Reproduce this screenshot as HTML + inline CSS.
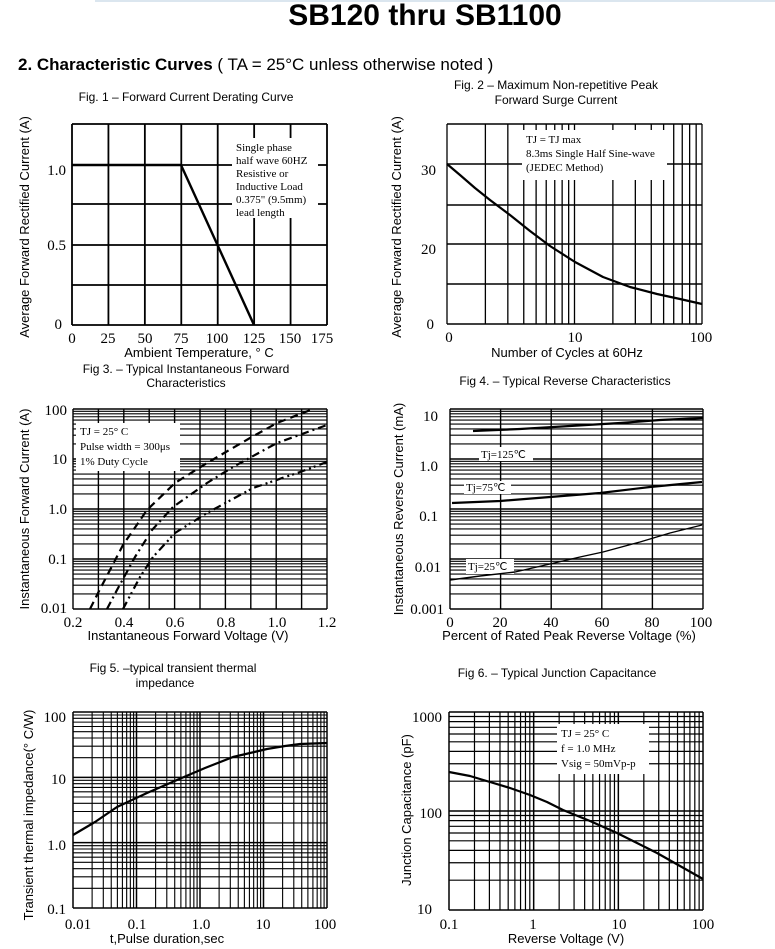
<!DOCTYPE html>
<html><head><meta charset="utf-8"><style>
html,body{margin:0;padding:0;background:#fff;}
svg{display:block;}
.s{font-family:"Liberation Sans",Arial,sans-serif;fill:#000;}
.t{font-family:"Liberation Serif","Times New Roman",serif;fill:#000;}
</style></head><body>
<svg id="c" width="775" height="949" viewBox="0 0 775 949" xmlns="http://www.w3.org/2000/svg">
<rect width="775" height="949" fill="#fff"/>
<line x1="95" y1="1" x2="775" y2="1" stroke="#dbe6ef" stroke-width="2"/>
<g id="grid"></g>
<g id="ann">
<rect x="232" y="138" width="86" height="80" fill="#fff"/>
<rect x="522" y="130" width="145" height="50" fill="#fff"/>
<rect x="76" y="423" width="104" height="48" fill="#fff"/>
<rect x="479" y="447" width="54" height="14" fill="#fff"/>
<rect x="464" y="481" width="47" height="13" fill="#fff"/>
<rect x="466" y="559" width="48" height="15" fill="#fff"/>
<rect x="557" y="724" width="92" height="50" fill="#fff"/>
</g>
<g id="curves"></g>
<text class="s" x="425" y="25" text-anchor="middle" font-size="30" font-weight="bold">SB120  thru SB1100</text>
<text class="s" x="18" y="70" font-size="17"><tspan font-weight="bold">2. Characteristic Curves</tspan> ( TA = 25°C unless otherwise noted )</text>

<text class="s" x="186" y="101" text-anchor="middle" font-size="12">Fig. 1 – Forward Current Derating Curve</text>
<text class="s" x="556" y="89" text-anchor="middle" font-size="12">Fig. 2 – Maximum Non-repetitive Peak</text>
<text class="s" x="556" y="104" text-anchor="middle" font-size="12">Forward Surge Current</text>
<text class="s" x="186" y="373" text-anchor="middle" font-size="12">Fig 3. – Typical Instantaneous Forward</text>
<text class="s" x="186" y="387" text-anchor="middle" font-size="12">Characteristics</text>
<text class="s" x="565" y="385" text-anchor="middle" font-size="12">Fig 4. – Typical Reverse Characteristics</text>
<text class="s" x="173" y="672" text-anchor="middle" font-size="12">Fig 5. –typical transient thermal</text>
<text class="s" x="165" y="687" text-anchor="middle" font-size="12">impedance</text>
<text class="s" x="557" y="677" text-anchor="middle" font-size="12">Fig 6. – Typical Junction Capacitance</text>

<!-- Fig1 text -->
<g class="t" font-size="11">
<text x="236" y="151">Single phase</text>
<text x="236" y="164">half  wave 60HZ</text>
<text x="236" y="177">Resistive or</text>
<text x="236" y="190">Inductive Load</text>
<text x="236" y="203">0.375" (9.5mm)</text>
<text x="236" y="216">lead length</text>
</g>
<g class="t" font-size="15" text-anchor="end">
<text x="66" y="175">1.0</text><text x="66" y="250">0.5</text><text x="62" y="329">0</text>
</g>
<g class="t" font-size="15" text-anchor="middle">
<text x="72" y="343">0</text><text x="108" y="343">25</text><text x="145" y="343">50</text><text x="181" y="343">75</text><text x="217" y="343">100</text><text x="254" y="343">125</text><text x="290" y="343">150</text><text x="322" y="343">175</text>
</g>
<text class="s" x="199" y="357" text-anchor="middle" font-size="13">Ambient Temperature,  °  C</text>
<text class="s" font-size="13" text-anchor="middle" transform="translate(29,227) rotate(-90)">Average Forward Rectified Current (A)</text>

<!-- Fig2 text -->
<g class="t" font-size="11">
<text x="526" y="143">TJ = TJ max</text>
<text x="526" y="157">8.3ms Single Half Sine-wave</text>
<text x="526" y="171">(JEDEC Method)</text>
</g>
<g class="t" font-size="15" text-anchor="end">
<text x="436" y="175">30</text><text x="436" y="254">20</text><text x="434" y="329">0</text>
</g>
<g class="t" font-size="15" text-anchor="middle">
<text x="449" y="342">0</text><text x="575" y="342">10</text><text x="701" y="342">100</text>
</g>
<text class="s" x="567" y="357" text-anchor="middle" font-size="13">Number of Cycles at 60Hz</text>
<text class="s" font-size="13" text-anchor="middle" transform="translate(401,227) rotate(-90)">Average Forward Rectified Current (A)</text>

<!-- Fig3 text -->
<g class="t" font-size="11">
<text x="80" y="435">TJ = 25°  C</text>
<text x="80" y="450">Pulse width = 300μs</text>
<text x="80" y="465">1% Duty Cycle</text>
</g>
<g class="t" font-size="15" text-anchor="end">
<text x="67" y="415">100</text><text x="67" y="464">10</text><text x="67" y="514">1.0</text><text x="67" y="564">0.1</text><text x="67" y="613">0.01</text>
</g>
<g class="t" font-size="15" text-anchor="middle">
<text x="73" y="627">0.2</text><text x="124" y="627">0.4</text><text x="175" y="627">0.6</text><text x="226" y="627">0.8</text><text x="277" y="627">1.0</text><text x="327" y="627">1.2</text>
</g>
<text class="s" x="188" y="640" text-anchor="middle" font-size="13">Instantaneous Forward Voltage (V)</text>
<text class="s" font-size="13" text-anchor="middle" transform="translate(29,509) rotate(-90)">Instantaneous Forward Current (A)</text>

<!-- Fig4 text -->
<g class="t" font-size="11">
<text x="481" y="458">Tj=125℃</text>
<text x="466" y="491">Tj=75℃</text>
<text x="468" y="570">Tj=25℃</text>
</g>
<g class="t" font-size="15" text-anchor="end">
<text x="438" y="421">10</text><text x="438" y="471">1.0</text><text x="438" y="521">0.1</text><text x="441" y="572">0.01</text><text x="444" y="614">0.001</text>
</g>
<g class="t" font-size="15" text-anchor="middle">
<text x="450" y="627">0</text><text x="500" y="627">20</text><text x="551" y="627">40</text><text x="602" y="627">60</text><text x="652" y="627">80</text><text x="701" y="627">100</text>
</g>
<text class="s" x="569" y="640" text-anchor="middle" font-size="13">Percent of Rated Peak Reverse Voltage (%)</text>
<text class="s" font-size="13" text-anchor="middle" transform="translate(403,509) rotate(-90)">Instantaneous Reverse Current (mA)</text>

<!-- Fig5 text -->
<g class="t" font-size="15" text-anchor="end">
<text x="66" y="722">100</text><text x="66" y="784">10</text><text x="66" y="850">1.0</text><text x="66" y="914">0.1</text>
</g>
<g class="t" font-size="15" text-anchor="middle">
<text x="78" y="929">0.01</text><text x="137" y="929">0.1</text><text x="201" y="929">1.0</text><text x="263" y="929">10</text><text x="325" y="929">100</text>
</g>
<text class="s" x="167" y="943" text-anchor="middle" font-size="13">t,Pulse duration,sec</text>
<text class="s" font-size="13" text-anchor="middle" transform="translate(33,815) rotate(-90)">Transient thermal impedance(°  C/W)</text>

<!-- Fig6 text -->
<g class="t" font-size="11">
<text x="561" y="737">TJ = 25°  C</text>
<text x="561" y="752">f = 1.0 MHz</text>
<text x="561" y="767">Vsig = 50mVp-p</text>
</g>
<g class="t" font-size="15" text-anchor="end">
<text x="442" y="722">1000</text><text x="442" y="818">100</text><text x="432" y="914">10</text>
</g>
<g class="t" font-size="15" text-anchor="middle">
<text x="449" y="929">0.1</text><text x="533" y="929">1</text><text x="619" y="929">10</text><text x="703" y="929">100</text>
</g>
<text class="s" x="566" y="943" text-anchor="middle" font-size="13">Reverse Voltage (V)</text>
<text class="s" font-size="13" text-anchor="middle" transform="translate(411,810) rotate(-90)">Junction Capacitance (pF)</text>
</svg>
<script>
(function(){
var NS="http://www.w3.org/2000/svg";
var g=document.getElementById('grid'), cv=document.getElementById('curves'), ann=document.getElementById('ann');
function L(x1,y1,x2,y2,w){var e=document.createElementNS(NS,'line');e.setAttribute('x1',x1);e.setAttribute('y1',y1);e.setAttribute('x2',x2);e.setAttribute('y2',y2);e.setAttribute('stroke','#000');e.setAttribute('stroke-width',w||1.2);g.appendChild(e);}
function box(x0,y0,x1,y1,w){L(x0,y0,x1,y0,w);L(x0,y1,x1,y1,w);L(x0,y0,x0,y1,w);L(x1,y0,x1,y1,w);}
function P(pts,w,dash){var e=document.createElementNS(NS,'polyline');e.setAttribute('points',pts.map(function(p){return p[0]+','+p[1];}).join(' '));e.setAttribute('fill','none');e.setAttribute('stroke','#000');e.setAttribute('stroke-width',w||2);e.setAttribute('stroke-linejoin','round');if(dash)e.setAttribute('stroke-dasharray',dash);cv.appendChild(e);}
function logVals(d0,d1){var a=[];for(var d=d0;d<d1;d++){for(var k=1;k<=9;k++)a.push([Math.log10(k)+d,k==1]);}a.push([d1,true]);return a;}
// Fig1
var i;
for(i=0;i<=7;i++)L(72+i*255/7,124,72+i*255/7,325,1.8);
[124,165,204,245,285,325].forEach(function(y){L(72,y,327,y,1.8);});
P([[72,165],[181,165],[254,325]],2.4);
// Fig2
logVals(0,2).forEach(function(v){var x=447+v[0]*127.5;L(x,124,x,324,1.3);});
[124,164,205,244,284,324].forEach(function(y){L(447,y,702,y,1.5);});
P([[447,164],[460,175],[475,188],[490,200],[510,215],[530,231],[550,246],[575,262],[603,277],[630,287],[657,294],[680,299],[702,304]],2.2);
// Fig3
for(i=0;i<=10;i++)L(73+i*25.4,409,73+i*25.4,609,1.4);
logVals(-2,2).forEach(function(v){var y=609-(v[0]+2)*50;L(73,y,327,y,v[1]?1.6:1.1);});
P([[90,609],[98,593],[123,545],[147,510],[175,483],[207,463],[250,438],[277,423],[313,409]],2.2,'8,5');
P([[107,609],[117,590],[135,557],[152,530],[173,507],[207,483],[233,467],[277,443],[327,425]],2.2,'8,4,2,4');
P([[123,609],[140,577],[153,557],[175,533],[207,513],[253,488],[300,472],[327,462]],2.2,'8,4,2,3,2,4');
// Fig4
for(i=0;i<=5;i++)L(450+i*50.6,409,450+i*50.6,609,1.4);
logVals(-3,1).forEach(function(v){var y=609-(v[0]+3)*50;L(450,y,703,y,v[1]?1.6:1.1);});
P([[473,431],[520,429],[570,426],[620,423],[660,420],[703,418]],2.2);
P([[452,503],[500,501],[550,497],[600,493],[650,487],[702,482]],2.2);
P([[450,580],[480,576],[515,572],[550,564],[580,557],[603,552],[640,542],[670,533],[702,525]],1.4);
// Fig5
logVals(-2,2).forEach(function(v){var x=73+(v[0]+2)*63.5;L(x,712,x,908,v[1]?1.5:1.1);});
logVals(-1,2).forEach(function(v){var y=908-(v[0]+1)*65.33;L(73,y,327,y,v[1]?1.5:1.1);});
P([[73,835],[95,822],[117,807],[147,793],[177,780],[205,768],[233,757],[250,753],[267,749],[285,746],[300,744],[327,743]],2.2);
// Fig6
logVals(-1,2).forEach(function(v){var x=449+(v[0]+1)*84.67;L(x,712,x,910,v[1]?1.5:1.2);});
logVals(1,3).forEach(function(v){var y=910-(v[0]-1)*99;L(449,y,703,y,v[1]?1.5:1.2);});
P([[449,772],[470,776],[490,782],[510,788],[530,795],[547,802],[563,810],[590,821],[617,833],[637,843],[657,853],[680,866],[703,879]],2.2);
// move annotation rects above grid
g.parentNode.insertBefore(ann,cv);
})();
</script>
</body></html>
